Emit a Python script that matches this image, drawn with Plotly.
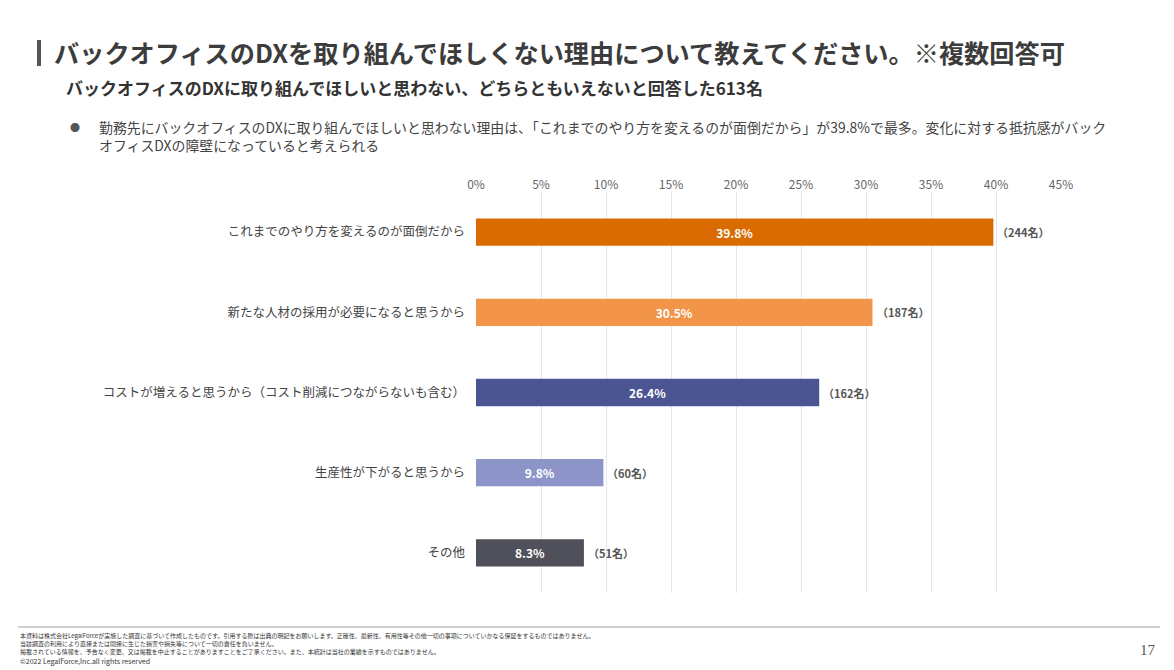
import plotly.graph_objects as go

# ---- data
categories = [
    "これまでのやり方を変えるのが面倒だから",
    "新たな人材の採用が必要になると思うから",
    "コストが増えると思うから（コスト削減につながらないも含む）",
    "生産性が下がると思うから",
    "その他",
]
percents = [39.8, 30.5, 26.4, 9.8, 8.3]
counts = [244, 187, 162, 60, 51]
x_ticks = [0, 5, 10, 15, 20, 25, 30, 35, 40, 45]

bar_colors = ["#D96B00", "#F39548", "#4A5591", "#8D95C8", "#4F5059"]

FONT = "Noto Sans CJK JP"
W, H = 1174, 670
L, R, T, B = 476, 1174 - 1061, 192, 670 - 593

# ---- figure
fig = go.Figure()

fig.add_trace(
    go.Bar(
        x=percents,
        y=categories,
        orientation="h",
        width=0.34,
        marker=dict(color=bar_colors, line=dict(width=0)),
        text=["<b>%.1f%%</b>" % p for p in percents],
        textposition="inside",
        insidetextanchor="middle",
        textfont=dict(family=FONT, size=12, color="white"),
        constraintext="none",
        hoverinfo="skip",
    )
)

# ---- count labels right of bars
for cat, p, n in zip(categories, percents, counts):
    fig.add_annotation(
        x=p, y=cat, xref="x", yref="y",
        text="<b>（%d名）</b>" % n,
        showarrow=False, xanchor="left", xshift=2,
        font=dict(family=FONT, size=11, color="#555555"),
    )

# ---- helpers for pixel positioned text
def px(x):
    return (x - L) / (W - L - R)

def py(y):
    return (H - B - y) / (H - T - B)

texts = [
    # x, y, text, size, color, bold
    (52, 52, "バックオフィスのDXを取り組んでほしくない理由について教えてください。※複数回答可", 25.2, "#3c3c3c", True),
    (64, 87, "バックオフィスのDXに取り組んでほしいと思わない、どちらともいえないと回答した613名", 17, "#333333", True),
    (68, 128, "●", 10, "#555555", False),
    (97, 136, "勤務先にバックオフィスのDXに取り組んでほしいと思わない理由は、「これまでのやり方を変えるのが面倒だから」が39.8%で最多。変化に対する抵抗感がバック"
              "<br>オフィスDXの障壁になっていると考えられる", 13.9, "#444444", False),
    (18, 643, "本資料は株式会社LegalForceが実施した調査に基づいて作成したものです。引用する際は出典の明記をお願いします。正確性、最新性、有用性等その他一切の事項についていかなる保証をするものではありません。"
              "<br>当該調査の利用により直接または間接に生じた損害や損失等について一切の責任を負いません。"
              "<br>掲載されている情報を、予告なく変更、又は掲載を中止することがありますことをご了承ください。また、本統計は当社の業績を示すものではありません。", 6, "#333333", False),
    (18, 661, "©2022 LegalForce,Inc.all rights reserved", 7, "#333333", False),
]
for x, y, t, s, c, b in texts:
    fig.add_annotation(
        x=px(x), y=py(y), xref="paper", yref="paper",
        text="<b>%s</b>" % t if b else t,
        showarrow=False, xanchor="left", yanchor="middle", align="left",
        font=dict(family=FONT, size=s, color=c),
    )

# page number
fig.add_annotation(
    x=px(1158), y=py(650), xref="paper", yref="paper",
    text="17", showarrow=False, xanchor="right", yanchor="middle",
    font=dict(family="Liberation Serif", size=15, color="#555555"),
)

# ---- title bar and footer line
fig.add_shape(type="rect", xref="paper", yref="paper",
              x0=px(37), x1=px(41), y0=py(40), y1=py(66),
              fillcolor="#555555", line=dict(width=0))
fig.add_shape(type="line", xref="paper", yref="paper",
              x0=px(18), x1=px(1160), y0=py(627), y1=py(627),
              line=dict(color="#a0a0a0", width=1.2))

# ---- layout
fig.update_layout(
    width=W, height=H,
    margin=dict(l=L, r=R, t=T, b=B, pad=0),
    paper_bgcolor="white",
    plot_bgcolor="white",
    showlegend=False,
    font=dict(family=FONT),
)

fig.update_xaxes(
    side="top",
    range=[0, 45],
    tickvals=x_ticks,
    ticktext=["%d%%" % v for v in x_ticks],
    showgrid=True,
    gridcolor="#e6e6e6",
    gridwidth=1,
    zeroline=False,
    showline=False,
    ticks="",
    tickfont=dict(family=FONT, size=12, color="#666666"),
)

fig.update_yaxes(
    range=[4.5, -0.5],
    showgrid=False,
    zeroline=False,
    showline=False,
    ticks="",
    ticklabelstandoff=10,
    tickfont=dict(family=FONT, size=12.5, color="#444444"),
)

fig.write_html("out.html", config={"displayModeBar": False},
               post_script="document.body.style.margin='0';")
